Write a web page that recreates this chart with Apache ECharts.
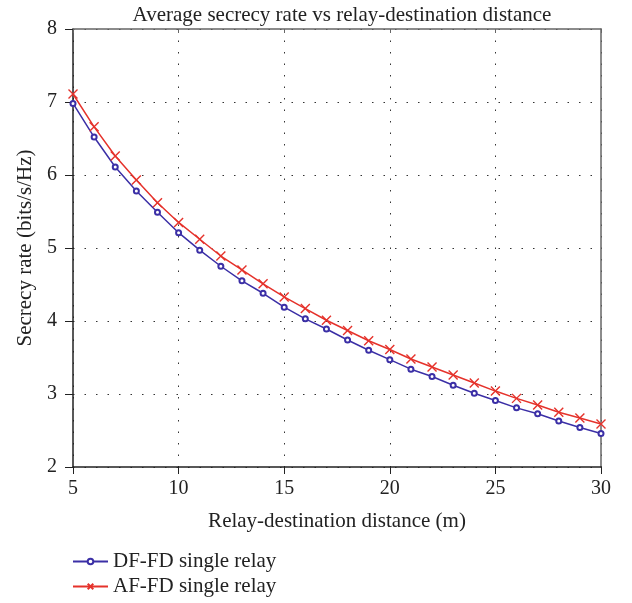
<!DOCTYPE html>
<html>
<head>
<meta charset="utf-8">
<script src="https://cdn.jsdelivr.net/npm/echarts@6/dist/echarts.min.js"></script>
<style>
  html, body { margin: 0; padding: 0; background: #fff; }
  #chart { width: 632px; height: 603px; }
</style>
</head>
<body>
<div id="chart"></div>
<script>
// Data
const distances = [5, 6, 7, 8, 9, 10, 11, 12, 13, 14, 15, 16, 17, 18, 19, 20, 21, 22, 23, 24, 25, 26, 27, 28, 29, 30];
const dfValues = [6.98, 6.52, 6.11, 5.78, 5.49, 5.21, 4.97, 4.75, 4.55, 4.38, 4.19, 4.03, 3.89, 3.74, 3.60, 3.47, 3.34, 3.24, 3.12, 3.01, 2.91, 2.81, 2.73, 2.63, 2.54, 2.46];
const afValues = [7.11, 6.66, 6.26, 5.93, 5.62, 5.35, 5.12, 4.89, 4.70, 4.51, 4.33, 4.17, 4.01, 3.87, 3.73, 3.61, 3.48, 3.37, 3.26, 3.15, 3.04, 2.94, 2.85, 2.75, 2.67, 2.59];
const seriesNames = ['DF-FD single relay', 'AF-FD single relay'];

const FONT = '"Liberation Serif", "DejaVu Serif", serif';
const FS = 20;
const NAME_FS = 21;
const BLUE = '#3b2fa6';
const RED = '#e5322b';

const chart = echarts.init(document.getElementById('chart'));

const dotted = { color: '#333', width: 1, type: [1.5, 10] };

const option = {
    backgroundColor: '#fff',
    animation: false,
    title: {
        text: 'Average secrecy rate vs relay-destination distance',
        left: 337, top: 0, textAlign: 'center',
        textStyle: { fontFamily: FONT, fontSize: 21, fontWeight: 'normal', color: '#222' }
    },
    grid: { left: 73, top: 29, right: 31, bottom: 136 },
    legend: {
        orient: 'vertical',
        left: 67, top: 546,
        itemWidth: 35, itemHeight: 7, itemGap: 4,
        textStyle: { fontFamily: FONT, fontSize: NAME_FS, color: '#222' },
        data: seriesNames
    },
    xAxis: [{
        type: 'value', min: 5, max: 30, interval: 5,
        name: 'Relay-destination distance (m)',
        nameLocation: 'middle', nameGap: 44,
        nameTextStyle: { fontFamily: FONT, fontSize: NAME_FS, color: '#222' },
        axisLine: { lineStyle: { color: '#222', width: 1.5 } },
        axisTick: { show: true, length: 7, lineStyle: { color: '#222' } },
        axisLabel: { fontFamily: FONT, fontSize: FS, color: '#222', margin: 12 },
        splitLine: { show: true, lineStyle: dotted }
    }, {
        type: 'value', min: 5, max: 30, interval: 5, position: 'top',
        axisLine: { show: true, lineStyle: { color: '#666', width: 1.5 } },
        axisTick: { show: true, inside: true, length: 4, lineStyle: { color: '#666' } },
        axisLabel: { show: false },
        splitLine: { show: false }
    }],
    yAxis: [{
        type: 'value', min: 2, max: 8, interval: 1,
        name: 'Secrecy rate (bits/s/Hz)',
        nameLocation: 'middle', nameGap: 37,
        nameTextStyle: { fontFamily: FONT, fontSize: NAME_FS, color: '#222' },
        axisLine: { show: true, lineStyle: { color: '#222', width: 1.5 } },
        axisTick: { show: true, length: 8, lineStyle: { color: '#222' } },
        axisLabel: { fontFamily: FONT, fontSize: FS, color: '#222', margin: 16 },
        splitLine: { show: true, lineStyle: dotted }
    }, {
        type: 'value', min: 2, max: 8, interval: 1, position: 'right',
        axisLine: { show: true, lineStyle: { color: '#666', width: 1.5 } },
        axisTick: { show: false },
        axisLabel: { show: false },
        splitLine: { show: false }
    }],
    series: [{
        name: seriesNames[0],
        type: 'line',
        data: distances.map((d, i) => [d, dfValues[i]]),
        symbol: 'emptyCircle',
        symbolSize: 5,
        lineStyle: { color: BLUE, width: 1.5 },
        itemStyle: { color: BLUE, borderColor: BLUE, borderWidth: 1.3 }
    }, {
        name: seriesNames[1],
        type: 'line',
        data: distances.map((d, i) => [d, afValues[i]]),
        symbol: 'path://M0,0L10,10M10,0L0,10',
        symbolSize: 9,
        lineStyle: { color: RED, width: 1.5 },
        itemStyle: { color: RED, borderColor: RED, borderWidth: 1.4 }
    }]
};

chart.setOption(option);
</script>
</body>
</html>
